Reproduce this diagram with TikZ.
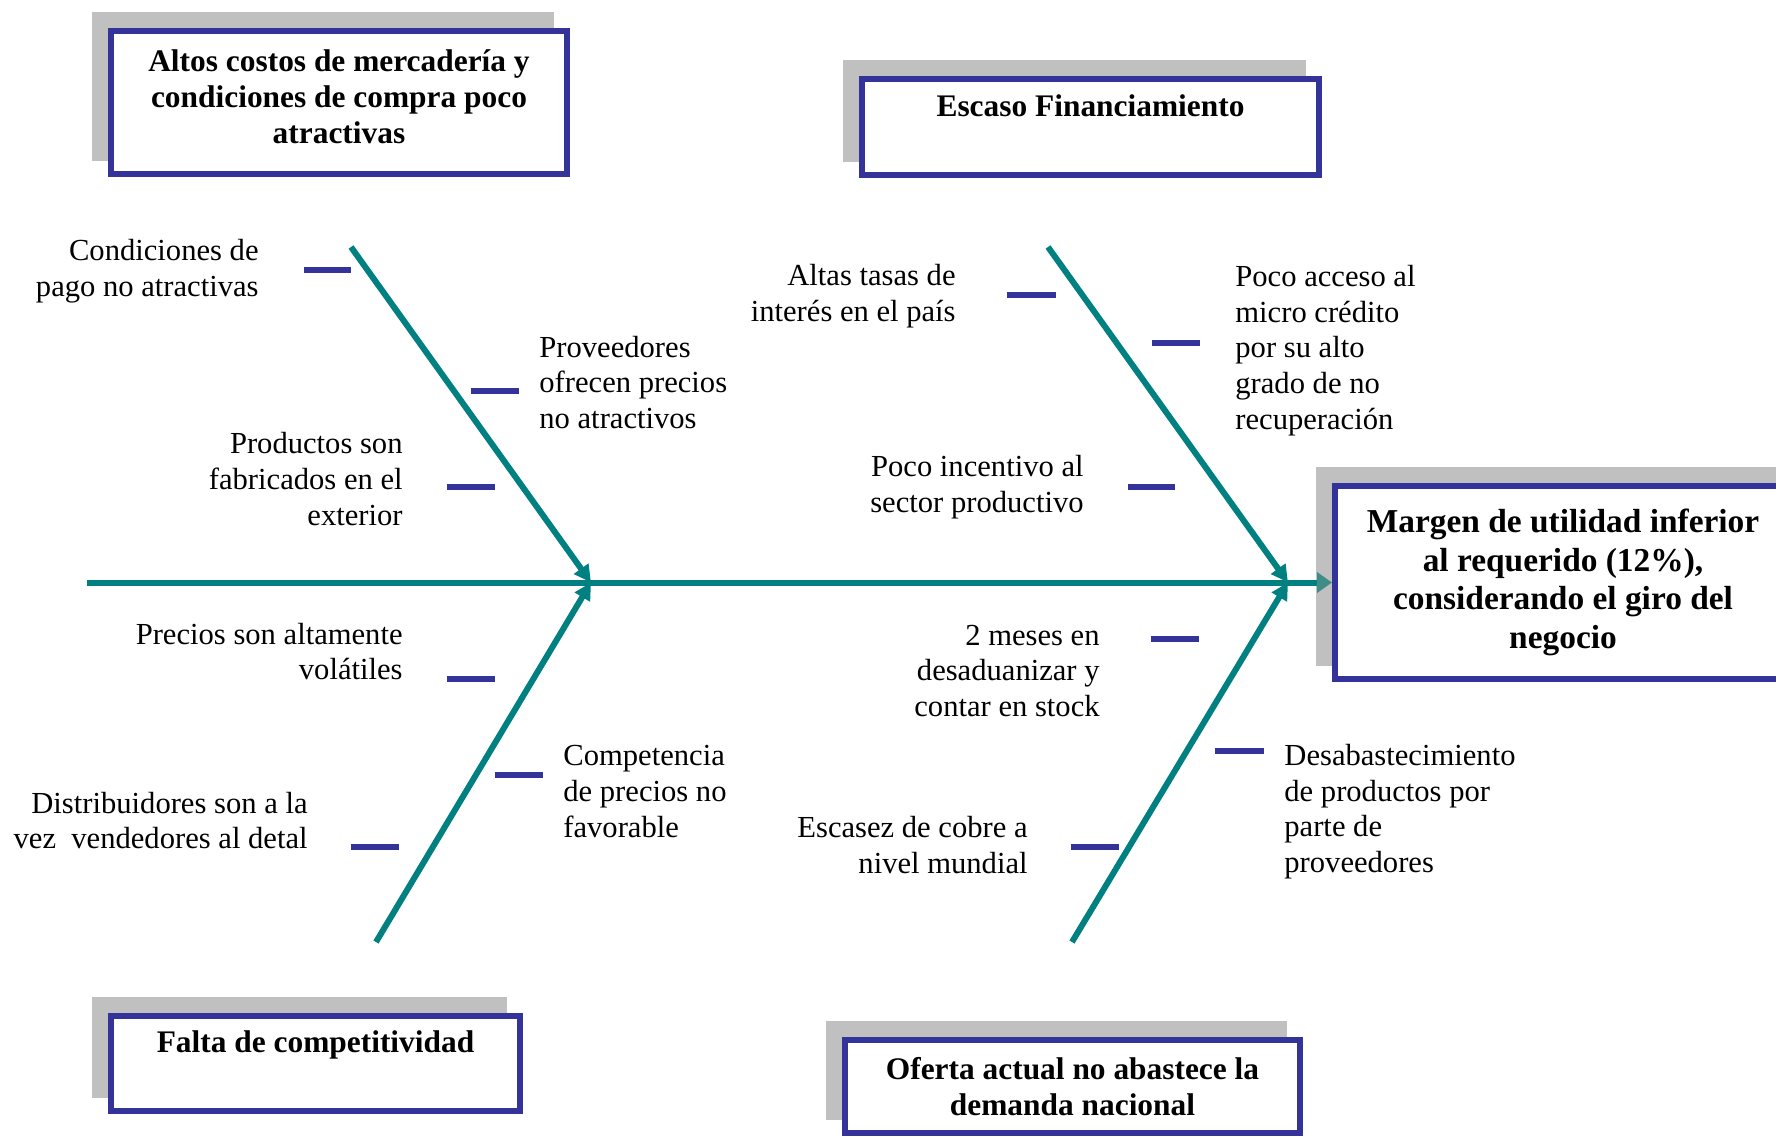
\documentclass[tikz,border=0pt]{standalone}
\usepackage{fontspec}
\setmainfont{Liberation Serif}
\usetikzlibrary{arrows.meta,shadows}
\definecolor{bonecol}{RGB}{0,128,128}
\definecolor{boxblue}{RGB}{51,51,153}
\definecolor{shgray}{RGB}{192,192,192}
\definecolor{tipmix}{RGB}{64,140,135}
\begin{document}
\begin{tikzpicture}[x=0.5pt,y=-0.5pt,
  causebox/.style={draw=boxblue, line width=3pt, fill=white, align=center, inner sep=0pt,
    font=\bfseries\fontsize{15.7pt}{18pt}\selectfont,
    general shadow={fill=shgray, draw=shgray, shadow xshift=-8pt, shadow yshift=8pt}},
  lbl/.style={inner sep=0pt, font=\fontsize{15.3pt}{17.8pt}\selectfont},
  lblR/.style={lbl, align=right, anchor=east},
  lblL/.style={lbl, align=left, anchor=west},
  bone/.style={draw=bonecol, line width=3pt, -{Triangle[length=8.5pt,width=8.5pt]}},
  spine/.style={draw=bonecol, line width=3pt, -{Triangle[length=7.5pt,width=10pt,color=tipmix]}},
  bluetick/.style={draw=boxblue, line width=2.8pt},
]
\clip (0,0) rectangle (1776,1136);
\fill[white] (0,0) rectangle (1776,1136);

% cause boxes
\node[causebox, minimum width=228pt, minimum height=71.5pt] (c1) at (339,102.5)
  {Altos costos de mercadería y\\condiciones de compra poco\\atractivas\\[-12.5pt]\mbox{}};
\node[causebox, minimum width=228.5pt, minimum height=48pt] (c2) at (1090.5,127)
  {\strut Escaso Financiamiento\\\strut};
\node[causebox, minimum width=204.5pt, minimum height=47.5pt] (c3) at (315.5,1063.5)
  {\strut Falta de competitividad\\\strut};
\node[causebox, minimum width=227.5pt, minimum height=46.5pt] (c4) at (1072.5,1086.5)
  {Oferta actual no abastece la\\demanda nacional};
\node[causebox, minimum width=228pt, minimum height=96.5pt,
  font=\bfseries\fontsize{16.7pt}{19.3pt}\selectfont] (effect) at (1563,582.5)
  {Margen de utilidad inferior\\al requerido (12\%),\\considerando el giro del\\negocio};

% skeleton
\coordinate (tail) at (87,582.5);
\coordinate (j1) at (591,582.5);
\coordinate (j2) at (1288,582.5);
\coordinate (b1) at (351,247);
\coordinate (b2) at (376,942);
\coordinate (b3) at (1048,247);
\coordinate (b4) at (1072,942);
\draw[spine] (tail) -- (tail -| effect.west);
\draw[bone] (b1) -- (j1);
\draw[bone] (b2) -- (j1);
\draw[bone] (b3) -- (j2);
\draw[bone] (b4) -- (j2);

% ticks
\draw[bluetick] (304,270) -- (351,270);
\draw[bluetick] (471,391) -- (519,391);
\draw[bluetick] (447,487) -- (495,487);
\draw[bluetick] (447,679) -- (495,679);
\draw[bluetick] (495,775) -- (543,775);
\draw[bluetick] (351,847) -- (399,847);
\draw[bluetick] (1007,295) -- (1056,295);
\draw[bluetick] (1152,343) -- (1200,343);
\draw[bluetick] (1128,487) -- (1175,487);
\draw[bluetick] (1151,639) -- (1199,639);
\draw[bluetick] (1215,751) -- (1264,751);
\draw[bluetick] (1071,847) -- (1119,847);

% labels
\node[lblR] (l1) at (259,271) {Condiciones de\\pago no atractivas};
\node[lblL] (l2) at (539,382.5) {Proveedores\\ofrecen precios\\no atractivos};
\node[lblR] (l3) at (403,479) {Productos son\\fabricados en el\\exterior};
\node[lblR] (l4) at (403,651.5) {Precios son altamente\\volátiles};
\node[lblL] (l5) at (563,791.5) {Competencia\\de precios no\\favorable};
\node[lblR] (l6) at (308,820.5) {Distribuidores son a la\\vez~ vendedores al detal};
\node[lblR] (l7) at (956,296) {Altas tasas de\\interés en el país};
\node[lblL] (l8) at (1235,350.5) {Poco acceso al\\micro crédito\\por su alto\\grado de no\\recuperación};
\node[lblR] (l9) at (1084,487) {Poco incentivo al\\sector productivo};
\node[lblR] (l10) at (1100,671) {2 meses en\\desaduanizar y\\contar en stock};
\node[lblL] (l11) at (1284,811.5) {Desabastecimiento\\de productos por\\parte de\\proveedores};
\node[lblR] (l12) at (1028,845) {Escasez de cobre a\\nivel mundial};
\end{tikzpicture}
\end{document}
